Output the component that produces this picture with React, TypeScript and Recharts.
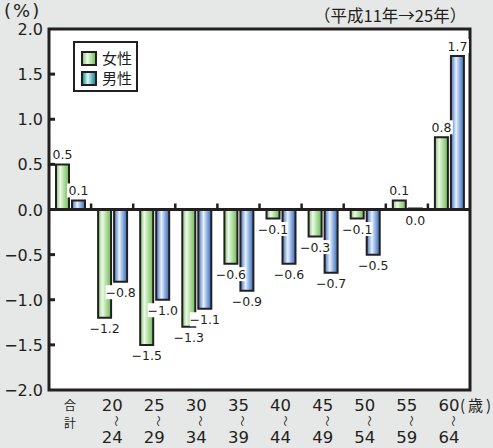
import React from 'react';
import { BarChart, Bar, XAxis, YAxis, CartesianGrid, ReferenceLine, ReferenceArea, LabelList, Legend } from 'recharts';

const categories = ['合計', '20〜24', '25〜29', '30〜34', '35〜39', '40〜44', '45〜49', '50〜54', '55〜59', '60〜64'];
const female = [0.5, -1.2, -1.5, -1.3, -0.6, -0.1, -0.3, -0.1, 0.1, 0.8];
const male = [0.1, -0.8, -1.0, -1.1, -0.9, -0.6, -0.7, -0.5, 0.0, 1.7];
const yTicks = [-2, -1.5, -1, -0.5, 0, 0.5, 1, 1.5, 2];
const seriesNames = ['女性', '男性'];
const unitLabel = '(%)';
const periodLabel = '（平成11年→25年）';
const ageUnit = '(歳)';

const data = categories.map((c, i) => ({ cat: c, female: female[i], male: male[i] }));

const INK = '#231f20';
const FONT = '"DejaVu Sans", "Noto Sans CJK JP", sans-serif';
const JFONT = '"Noto Sans CJK JP", sans-serif';

function fmt(v: number) {
  const s = Math.abs(v).toFixed(1);
  return v < 0 ? '−' + s : s;
}

const XTick = (props: any) => {
  const { x, y, payload, index } = props;
  const label: string = payload.value;
  if (label === '合計') {
    return (
      <text fill={INK} fontFamily={JFONT} fontSize={12} textAnchor="middle">
        <tspan x={x} y={y + 20}>合</tspan>
        <tspan x={x} y={y + 38}>計</tspan>
      </text>
    );
  }
  const [a, b] = label.split('〜');
  return (
    <g fill={INK}>
      <text fontSize={16.5} fontFamily={FONT} textAnchor="middle">
        <tspan x={x} y={y + 21}>{a}</tspan>
        <tspan x={x} y={y + 53}>{b}</tspan>
      </text>
      <text transform={`translate(${x + 5},${y + 31}) rotate(90)`} textAnchor="middle" dominantBaseline="central" fontSize={11} fontFamily={JFONT}>〜</text>
      {index === categories.length - 1 && (
        <text x={x + 11} y={y + 21} textAnchor="start" fontSize={15} letterSpacing={3} fontFamily={JFONT}>{ageUnit}</text>
      )}
    </g>
  );
};

const YTick = (props: any) => {
  const { x, y, payload } = props;
  const v = payload.value;
  return (
    <g>
      <text x={x} y={y} dy={6} textAnchor="end" fontSize={16} fontFamily={FONT} fill={INK}>{fmt(v)}</text>
      {v > -2 && v < 2 && v !== 0 && (
        <line x1={x + 6} x2={x + 12} y1={y} y2={y} stroke={INK} strokeWidth={3} />
      )}
    </g>
  );
};

const ZeroLine = (p: any) => {
  const { x1, x2, y1 } = p;
  const n = categories.length;
  const step = (x2 - x1) / n;
  return (
    <g>
      <line x1={x1} x2={x2} y1={y1} y2={y1} stroke={INK} strokeWidth={3} />
      {categories.slice(1).map((_, i) => (
        <line key={i} x1={x1 + step * (i + 1)} x2={x1 + step * (i + 1)} y1={y1} y2={y1 - 6} stroke={INK} strokeWidth={2.5} />
      ))}
    </g>
  );
};

const ValueLabel = (props: any) => {
  const { x, y, width, height, value } = props;
  const top = Math.min(y, y + height);
  const bottom = Math.max(y, y + height);
  const cx = x + width / 2;
  const cy = value > 0 ? top - 10 : Math.max(bottom, y) + 10.5;
  const txt = fmt(Number(value));
  const w = txt.length * 7 + 2;
  return (
    <g>
      <rect x={cx - w / 2} y={cy - 7} width={w} height={14} fill="#fff" />
      <text x={cx} y={cy} dominantBaseline="central" textAnchor="middle" fontSize={12.5} fill={INK} fontFamily={FONT}>{txt}</text>
    </g>
  );
};

const swatchBg = [
  'linear-gradient(to right, #8ccc78 0%, #eef8ea 35%, #c2e6b4 60%, #7cc266 100%)',
  'linear-gradient(to right, #1f9aa0 0%, #e6f6f7 40%, #8fd0d4 62%, #1d8f96 100%)',
];

const LegendBox = () => (
  <div style={{ border: `2px solid ${INK}`, background: '#fff', width: 65, height: 51, boxSizing: 'border-box', padding: '5px 0 0 6px' }}>
    {seriesNames.map((n, i) => (
      <div key={n} style={{ display: 'flex', alignItems: 'center', height: 20 }}>
        <div style={{ width: 16, height: 15, boxSizing: 'border-box', border: `2px solid ${INK}`, background: swatchBg[i] }} />
        <span style={{ marginLeft: 5, fontSize: 15, fontFamily: JFONT, color: INK, lineHeight: '20px' }}>{n}</span>
      </div>
    ))}
  </div>
);

const zeroMin = (v: any) => (Number(v) === 0 ? 1 : 0);

export default function App() {
  return (
    <div style={{ position: 'absolute', left: 0, top: 0, width: 493, height: 448, background: '#e6e8e7', overflow: 'hidden' }}>
      <div style={{ position: 'absolute', left: 4, top: 0, fontSize: 18, lineHeight: '22px', letterSpacing: 2, fontFamily: FONT, color: INK }}>{unitLabel}</div>
      <div style={{ position: 'absolute', left: 314, top: 3, fontSize: 16.5, lineHeight: '24px', fontFamily: JFONT, color: INK, whiteSpace: 'nowrap' }}>{periodLabel}</div>
      <BarChart width={493} height={448} data={data} margin={{ top: 29, right: 23, left: 8, bottom: 8 }} barSize={13} barGap={3}>
        <defs>
          <linearGradient id="gF" x1="0" y1="0" x2="1" y2="0">
            <stop offset="0%" stopColor="#7cc266" />
            <stop offset="32%" stopColor="#eef8ea" />
            <stop offset="58%" stopColor="#b8e2a8" />
            <stop offset="100%" stopColor="#6db85a" />
          </linearGradient>
          <linearGradient id="gM" x1="0" y1="0" x2="1" y2="0">
            <stop offset="0%" stopColor="#3b6fc0" />
            <stop offset="40%" stopColor="#eaf1fb" />
            <stop offset="62%" stopColor="#9dbce7" />
            <stop offset="100%" stopColor="#3568b8" />
          </linearGradient>
        </defs>
        <CartesianGrid horizontal={false} vertical={false} fill="#fff" />
        <XAxis dataKey="cat" axisLine={false} tickLine={false} tickSize={0} tickMargin={0} height={50} interval={0} tick={<XTick />} />
        <YAxis domain={[-2, 2]} ticks={yTicks} axisLine={false} tickLine={false} tickSize={0} tickMargin={6} width={41} tick={<YTick />} />
        <Legend layout="horizontal" verticalAlign="middle" align="center" wrapperStyle={{ left: 73, top: 41, width: 'auto', height: 'auto' }} content={<LegendBox />} />
        <Bar dataKey="female" name={seriesNames[0]} fill="url(#gF)" stroke={INK} strokeWidth={2} isAnimationActive={false}>
          <LabelList dataKey="female" content={<ValueLabel />} />
        </Bar>
        <Bar dataKey="male" name={seriesNames[1]} fill="url(#gM)" stroke={INK} strokeWidth={2} minPointSize={zeroMin as any} isAnimationActive={false}>
          <LabelList dataKey="male" content={<ValueLabel />} />
        </Bar>
        <ReferenceLine y={0} shape={<ZeroLine />} ifOverflow="visible" />
        <ReferenceArea y1={-2} y2={2} fill="none" stroke={INK} strokeWidth={3} ifOverflow="visible" />
      </BarChart>
    </div>
  );
}
